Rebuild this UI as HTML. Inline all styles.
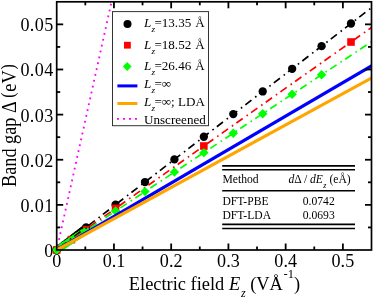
<!DOCTYPE html>
<html><head><meta charset="utf-8"><title>Band gap vs electric field</title>
<style>html,body{margin:0;padding:0;background:#fff;overflow:hidden}body{width:374px;height:299px;position:relative;font-family:"Liberation Serif",serif}</style>
</head><body>
<svg width="374" height="299" viewBox="0 0 374 299" style="position:absolute;left:0;top:0;will-change:transform;font-family:'Liberation Serif',serif">
<rect x="0" y="0" width="374" height="299" fill="#fff"/>
<defs><clipPath id="cp"><rect x="56.7" y="1.8" width="314.8" height="248.2"/></clipPath></defs>
<circle cx="56.70" cy="250.00" r="3.3" fill="#000"/>
<circle cx="58.17" cy="248.87" r="3.3" fill="#000"/>
<circle cx="59.64" cy="247.74" r="3.3" fill="#000"/>
<circle cx="61.11" cy="246.60" r="3.3" fill="#000"/>
<circle cx="62.59" cy="245.47" r="3.3" fill="#000"/>
<circle cx="64.06" cy="244.34" r="3.3" fill="#000"/>
<circle cx="65.53" cy="243.21" r="3.3" fill="#000"/>
<circle cx="67.00" cy="242.07" r="3.3" fill="#000"/>
<circle cx="68.47" cy="240.94" r="3.3" fill="#000"/>
<circle cx="69.94" cy="239.81" r="3.3" fill="#000"/>
<circle cx="71.42" cy="238.68" r="3.3" fill="#000"/>
<circle cx="72.89" cy="237.54" r="3.3" fill="#000"/>
<circle cx="74.36" cy="236.41" r="3.3" fill="#000"/>
<circle cx="75.83" cy="235.28" r="3.3" fill="#000"/>
<circle cx="77.30" cy="234.15" r="3.3" fill="#000"/>
<circle cx="78.77" cy="233.01" r="3.3" fill="#000"/>
<circle cx="80.24" cy="231.88" r="3.3" fill="#000"/>
<circle cx="81.72" cy="230.75" r="3.3" fill="#000"/>
<circle cx="83.19" cy="229.62" r="3.3" fill="#000"/>
<circle cx="84.66" cy="228.48" r="3.3" fill="#000"/>
<circle cx="86.13" cy="227.35" r="3.3" fill="#000"/>
<rect x="67.62" y="235.80" width="7.6" height="7.6" fill="#f00"/>
<path d="M52.20 250.00L56.70 245.50L61.20 250.00L56.70 254.50Z" fill="#0f0"/>
<path d="M53.67 249.03L58.17 244.53L62.67 249.03L58.17 253.53Z" fill="#0f0"/>
<path d="M55.14 248.05L59.64 243.55L64.14 248.05L59.64 252.55Z" fill="#0f0"/>
<path d="M56.61 247.08L61.11 242.58L65.61 247.08L61.11 251.58Z" fill="#0f0"/>
<path d="M58.09 246.11L62.59 241.61L67.09 246.11L62.59 250.61Z" fill="#0f0"/>
<path d="M59.56 245.13L64.06 240.63L68.56 245.13L64.06 249.63Z" fill="#0f0"/>
<path d="M61.03 244.16L65.53 239.66L70.03 244.16L65.53 248.66Z" fill="#0f0"/>
<path d="M62.50 243.19L67.00 238.69L71.50 243.19L67.00 247.69Z" fill="#0f0"/>
<path d="M63.97 242.21L68.47 237.71L72.97 242.21L68.47 246.71Z" fill="#0f0"/>
<path d="M65.44 241.24L69.94 236.74L74.44 241.24L69.94 245.74Z" fill="#0f0"/>
<path d="M66.92 240.26L71.42 235.76L75.92 240.26L71.42 244.76Z" fill="#0f0"/>
<path d="M68.39 239.29L72.89 234.79L77.39 239.29L72.89 243.79Z" fill="#0f0"/>
<path d="M69.86 238.32L74.36 233.82L78.86 238.32L74.36 242.82Z" fill="#0f0"/>
<path d="M71.33 237.34L75.83 232.84L80.33 237.34L75.83 241.84Z" fill="#0f0"/>
<path d="M72.80 236.37L77.30 231.87L81.80 236.37L77.30 240.87Z" fill="#0f0"/>
<path d="M74.27 235.40L78.77 230.90L83.27 235.40L78.77 239.90Z" fill="#0f0"/>
<path d="M75.74 234.42L80.24 229.92L84.74 234.42L80.24 238.92Z" fill="#0f0"/>
<path d="M77.22 233.45L81.72 228.95L86.22 233.45L81.72 237.95Z" fill="#0f0"/>
<path d="M78.69 232.48L83.19 227.98L87.69 232.48L83.19 236.98Z" fill="#0f0"/>
<path d="M80.16 231.50L84.66 227.00L89.16 231.50L84.66 236.00Z" fill="#0f0"/>
<path d="M81.63 230.53L86.13 226.03L90.63 230.53L86.13 235.03Z" fill="#0f0"/>
<g clip-path="url(#cp)">
<line x1="56.70" y1="250.00" x2="377.22" y2="3.33" stroke="#000" stroke-width="1.7" stroke-dasharray="7.7 4.7 1.6 3.97" stroke-linecap="butt" stroke-dashoffset="13.54"/>
</g>
<circle cx="56.70" cy="250.00" r="4.15" fill="#000"/>
<circle cx="86.13" cy="227.35" r="4.15" fill="#000"/>
<circle cx="115.56" cy="204.70" r="4.15" fill="#000"/>
<circle cx="144.99" cy="182.05" r="4.15" fill="#000"/>
<circle cx="174.42" cy="159.40" r="4.15" fill="#000"/>
<circle cx="203.85" cy="136.75" r="4.15" fill="#000"/>
<circle cx="233.29" cy="114.10" r="4.15" fill="#000"/>
<circle cx="262.72" cy="91.45" r="4.15" fill="#000"/>
<circle cx="292.15" cy="68.80" r="4.15" fill="#000"/>
<circle cx="321.58" cy="46.15" r="4.15" fill="#000"/>
<circle cx="351.01" cy="23.50" r="4.15" fill="#000"/>
<g clip-path="url(#cp)">
<line x1="56.70" y1="250.00" x2="377.22" y2="23.47" stroke="#f00" stroke-width="1.7" stroke-dasharray="7.7 4.7 1.6 3.97" stroke-linecap="butt" stroke-dashoffset="13.54"/>
</g>
<rect x="52.90" y="246.20" width="7.6" height="7.6" fill="#f00"/>
<rect x="82.83" y="225.90" width="6.6" height="6.6" fill="#f00"/>
<rect x="111.76" y="204.60" width="7.6" height="7.6" fill="#f00"/>
<rect x="200.05" y="142.20" width="7.6" height="7.6" fill="#f00"/>
<rect x="347.21" y="38.20" width="7.6" height="7.6" fill="#f00"/>
<g clip-path="url(#cp)">
<line x1="56.70" y1="250.00" x2="377.22" y2="37.96" stroke="#0f0" stroke-width="1.7" stroke-dasharray="7.7 4.7 1.6 3.97" stroke-linecap="butt" stroke-dashoffset="13.54"/>
</g>
<path d="M52.00 250.00L56.70 245.30L61.40 250.00L56.70 254.70Z" fill="#0f0"/>
<path d="M81.43 230.53L84.21 227.75L88.05 227.75L90.83 230.53L86.13 235.23Z" fill="#0f0"/>
<rect x="85.23" y="227.45" width="1.8" height="1.6" fill="#300" opacity="0.8"/>
<path d="M110.86 211.06L115.56 206.36L120.26 211.06L115.56 215.76Z" fill="#0f0"/>
<path d="M140.29 191.59L144.99 186.89L149.69 191.59L144.99 196.29Z" fill="#0f0"/>
<path d="M169.72 172.12L174.42 167.42L179.12 172.12L174.42 176.82Z" fill="#0f0"/>
<path d="M199.15 152.65L203.85 147.95L208.55 152.65L203.85 157.35Z" fill="#0f0"/>
<path d="M228.59 133.18L233.29 128.48L237.99 133.18L233.29 137.88Z" fill="#0f0"/>
<path d="M258.02 113.71L262.72 109.01L267.42 113.71L262.72 118.41Z" fill="#0f0"/>
<path d="M287.45 94.24L292.15 89.54L296.85 94.24L292.15 98.94Z" fill="#0f0"/>
<path d="M316.88 74.77L321.58 70.07L326.28 74.77L321.58 79.47Z" fill="#0f0"/>
<g clip-path="url(#cp)">
<line x1="56.70" y1="250.00" x2="377.22" y2="62.49" stroke="#0000ff" stroke-width="3.2" stroke-linecap="butt" />
<line x1="56.70" y1="250.00" x2="377.22" y2="74.87" stroke="#ffa500" stroke-width="3.2" stroke-linecap="butt" />
<line x1="56.70" y1="250.00" x2="114.24" y2="-10.61" stroke="#ff00ff" stroke-width="1.85" stroke-dasharray="1.8 4.2" stroke-linecap="butt" stroke-dashoffset="1.6"/>
</g>
<rect x="56.7" y="1.8" width="314.8" height="248.2" fill="none" stroke="#000" stroke-width="1.7"/>
<line x1="85.32" y1="250.0" x2="85.32" y2="246.5" stroke="#000" stroke-width="1.8"/>
<line x1="85.32" y1="1.8" x2="85.32" y2="5.3" stroke="#000" stroke-width="1.8"/>
<line x1="113.94" y1="250.0" x2="113.94" y2="243.5" stroke="#000" stroke-width="1.8"/>
<line x1="113.94" y1="1.8" x2="113.94" y2="8.3" stroke="#000" stroke-width="1.8"/>
<line x1="142.55" y1="250.0" x2="142.55" y2="246.5" stroke="#000" stroke-width="1.8"/>
<line x1="142.55" y1="1.8" x2="142.55" y2="5.3" stroke="#000" stroke-width="1.8"/>
<line x1="171.17" y1="250.0" x2="171.17" y2="243.5" stroke="#000" stroke-width="1.8"/>
<line x1="171.17" y1="1.8" x2="171.17" y2="8.3" stroke="#000" stroke-width="1.8"/>
<line x1="199.79" y1="250.0" x2="199.79" y2="246.5" stroke="#000" stroke-width="1.8"/>
<line x1="199.79" y1="1.8" x2="199.79" y2="5.3" stroke="#000" stroke-width="1.8"/>
<line x1="228.41" y1="250.0" x2="228.41" y2="243.5" stroke="#000" stroke-width="1.8"/>
<line x1="228.41" y1="1.8" x2="228.41" y2="8.3" stroke="#000" stroke-width="1.8"/>
<line x1="257.03" y1="250.0" x2="257.03" y2="246.5" stroke="#000" stroke-width="1.8"/>
<line x1="257.03" y1="1.8" x2="257.03" y2="5.3" stroke="#000" stroke-width="1.8"/>
<line x1="285.65" y1="250.0" x2="285.65" y2="243.5" stroke="#000" stroke-width="1.8"/>
<line x1="285.65" y1="1.8" x2="285.65" y2="8.3" stroke="#000" stroke-width="1.8"/>
<line x1="314.26" y1="250.0" x2="314.26" y2="246.5" stroke="#000" stroke-width="1.8"/>
<line x1="314.26" y1="1.8" x2="314.26" y2="5.3" stroke="#000" stroke-width="1.8"/>
<line x1="342.88" y1="250.0" x2="342.88" y2="243.5" stroke="#000" stroke-width="1.8"/>
<line x1="342.88" y1="1.8" x2="342.88" y2="8.3" stroke="#000" stroke-width="1.8"/>
<line x1="56.7" y1="227.44" x2="60.2" y2="227.44" stroke="#000" stroke-width="1.8"/>
<line x1="371.5" y1="227.44" x2="368.0" y2="227.44" stroke="#000" stroke-width="1.8"/>
<line x1="56.7" y1="204.87" x2="63.2" y2="204.87" stroke="#000" stroke-width="1.8"/>
<line x1="371.5" y1="204.87" x2="365.0" y2="204.87" stroke="#000" stroke-width="1.8"/>
<line x1="56.7" y1="182.31" x2="60.2" y2="182.31" stroke="#000" stroke-width="1.8"/>
<line x1="371.5" y1="182.31" x2="368.0" y2="182.31" stroke="#000" stroke-width="1.8"/>
<line x1="56.7" y1="159.75" x2="63.2" y2="159.75" stroke="#000" stroke-width="1.8"/>
<line x1="371.5" y1="159.75" x2="365.0" y2="159.75" stroke="#000" stroke-width="1.8"/>
<line x1="56.7" y1="137.18" x2="60.2" y2="137.18" stroke="#000" stroke-width="1.8"/>
<line x1="371.5" y1="137.18" x2="368.0" y2="137.18" stroke="#000" stroke-width="1.8"/>
<line x1="56.7" y1="114.62" x2="63.2" y2="114.62" stroke="#000" stroke-width="1.8"/>
<line x1="371.5" y1="114.62" x2="365.0" y2="114.62" stroke="#000" stroke-width="1.8"/>
<line x1="56.7" y1="92.05" x2="60.2" y2="92.05" stroke="#000" stroke-width="1.8"/>
<line x1="371.5" y1="92.05" x2="368.0" y2="92.05" stroke="#000" stroke-width="1.8"/>
<line x1="56.7" y1="69.49" x2="63.2" y2="69.49" stroke="#000" stroke-width="1.8"/>
<line x1="371.5" y1="69.49" x2="365.0" y2="69.49" stroke="#000" stroke-width="1.8"/>
<line x1="56.7" y1="46.93" x2="60.2" y2="46.93" stroke="#000" stroke-width="1.8"/>
<line x1="371.5" y1="46.93" x2="368.0" y2="46.93" stroke="#000" stroke-width="1.8"/>
<line x1="56.7" y1="24.36" x2="63.2" y2="24.36" stroke="#000" stroke-width="1.8"/>
<line x1="371.5" y1="24.36" x2="365.0" y2="24.36" stroke="#000" stroke-width="1.8"/>
<text x="56.70" y="267.2" font-size="18.1" text-anchor="middle">0</text>
<text x="113.94" y="267.2" font-size="18.1" text-anchor="middle">0.1</text>
<text x="171.17" y="267.2" font-size="18.1" text-anchor="middle">0.2</text>
<text x="228.41" y="267.2" font-size="18.1" text-anchor="middle">0.3</text>
<text x="285.65" y="267.2" font-size="18.1" text-anchor="middle">0.4</text>
<text x="342.88" y="267.2" font-size="18.1" text-anchor="middle">0.5</text>
<text x="53.55" y="256.90" font-size="18.1" text-anchor="end" letter-spacing="0.35">0</text>
<text x="53.55" y="211.77" font-size="18.1" text-anchor="end" letter-spacing="0.35">0.01</text>
<text x="53.55" y="166.65" font-size="18.1" text-anchor="end" letter-spacing="0.35">0.02</text>
<text x="53.55" y="121.52" font-size="18.1" text-anchor="end" letter-spacing="0.35">0.03</text>
<text x="53.55" y="76.39" font-size="18.1" text-anchor="end" letter-spacing="0.35">0.04</text>
<text x="53.55" y="31.26" font-size="18.1" text-anchor="end" letter-spacing="0.35">0.05</text>
<text x="128.8" y="289.5" font-size="18.4">Electric field <tspan font-style="italic">E</tspan><tspan font-size="12.14" font-style="italic" dy="7.2" dx="1">z</tspan><tspan dy="-7.2" dx="-0.3"> (VÅ</tspan><tspan font-size="12.51" dy="-11.2" dx="0.7">-1</tspan><tspan dy="11.2" dx="0">)</tspan></text>
<text transform="translate(15.7,186.9) rotate(-90) scale(1,1.13)" font-size="18.22">Band gap Δ <tspan font-size="15.85" dy="-1.3">(</tspan><tspan dy="1.3" dx="0.8">eV</tspan><tspan font-size="15.85" dy="-1.3" dx="0.9">)</tspan></text>
<rect x="112.5" y="11.6" width="96" height="114.1" fill="#fff" stroke="#333" stroke-width="1"/>
<circle cx="127.5" cy="23.9" r="4" fill="#000"/>
<rect x="124.0" y="41.8" width="6.8" height="6.8" fill="#f00"/>
<path d="M122.80 66.50L127.20 62.10L131.60 66.50L127.20 70.90Z" fill="#0f0"/>
<line x1="117.4" y1="85.9" x2="137.4" y2="85.9" stroke="#00f" stroke-width="3"/>
<line x1="117.4" y1="103.5" x2="137.4" y2="103.5" stroke="#ffa500" stroke-width="3"/>
<line x1="117.0" y1="118.9" x2="137.5" y2="118.9" stroke="#f0f" stroke-width="1.9" stroke-dasharray="2 4"/>
<text x="144" y="27.0" font-size="13.1"><tspan font-style="italic">L</tspan><tspan font-size="9.17" font-style="italic" dy="5.1" dx="0.3">z</tspan><tspan dy="-5.1" dx="-0.8">=13.35<tspan dx="0.8"> Å</tspan></tspan></text>
<text x="144" y="48.5" font-size="13.1"><tspan font-style="italic">L</tspan><tspan font-size="9.17" font-style="italic" dy="5.1" dx="0.3">z</tspan><tspan dy="-5.1" dx="-0.8">=18.52<tspan dx="0.8"> Å</tspan></tspan></text>
<text x="144" y="70.2" font-size="13.1"><tspan font-style="italic">L</tspan><tspan font-size="9.17" font-style="italic" dy="5.1" dx="0.3">z</tspan><tspan dy="-5.1" dx="-0.8">=26.46<tspan dx="0.8"> Å</tspan></tspan></text>
<text x="144" y="88.3" font-size="13.1"><tspan font-style="italic">L</tspan><tspan font-size="9.17" font-style="italic" dy="5.1" dx="0.3">z</tspan><tspan dy="-5.1" dx="-0.8">=∞</tspan></text>
<text x="144" y="106.3" font-size="13.1"><tspan font-style="italic">L</tspan><tspan font-size="9.17" font-style="italic" dy="5.1" dx="0.3">z</tspan><tspan dy="-5.1" dx="-0.8">=∞; LDA</tspan></text>
<text x="144" y="123.6" font-size="13.1">Unscreened</text>
<line x1="222.2" y1="165.9" x2="355.0" y2="165.9" stroke="#000" stroke-width="1.6"/>
<line x1="222.2" y1="169.8" x2="355.0" y2="169.8" stroke="#000" stroke-width="1.6"/>
<line x1="222.2" y1="224.4" x2="355.0" y2="224.4" stroke="#000" stroke-width="1.6"/>
<line x1="222.2" y1="228.5" x2="355.0" y2="228.5" stroke="#000" stroke-width="1.6"/>
<line x1="222.2" y1="190.7" x2="355.0" y2="190.7" stroke="#000" stroke-width="1.4"/>
<text x="222.5" y="183" font-size="11.6">Method</text>
<text x="288.4" y="183" font-size="11.6"><tspan font-style="italic">d</tspan>Δ / <tspan font-style="italic">dE</tspan><tspan font-size="8.12" font-style="italic" dy="4.5" dx="0.3">z</tspan><tspan dy="-4.5" dx="0.2"> (eÅ)</tspan></text>
<text x="222.5" y="204.5" font-size="11.6">DFT-PBE</text>
<text x="222.5" y="219.1" font-size="11.6">DFT-LDA</text>
<text x="302.8" y="204.6" font-size="11.6">0.0742</text>
<text x="302.8" y="219.2" font-size="11.6">0.0693</text>
</svg>
</body></html>
